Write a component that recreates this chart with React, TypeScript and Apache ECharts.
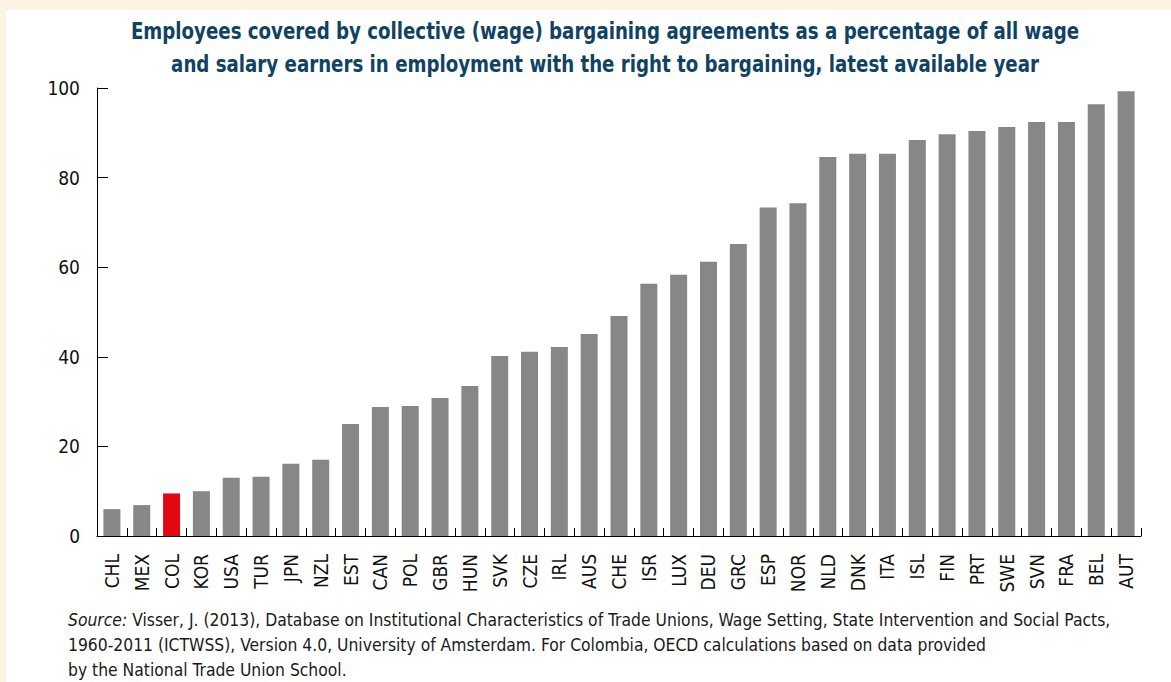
import React, { useEffect, useRef } from "react";
import * as echarts from "echarts";

const categories = ["CHL","MEX","COL","KOR","USA","TUR","JPN","NZL","EST","CAN","POL","GBR","HUN","SVK","CZE","IRL","AUS","CHE","ISR","LUX","DEU","GRC","ESP","NOR","NLD","DNK","ITA","ISL","FIN","PRT","SWE","SVN","FRA","BEL","AUT"];
const values = [6.0,6.9,9.5,10.0,13.0,13.2,16.1,17.0,25.0,28.8,29.0,30.8,33.5,40.2,41.1,42.2,45.1,49.1,56.3,58.3,61.2,65.2,73.3,74.3,84.6,85.3,85.3,88.4,89.7,90.4,91.3,92.4,92.4,96.4,99.3];
const highlighted = ["COL"];
const titleLines = [
  "Employees covered by collective (wage) bargaining agreements as a percentage of all wage",
  "and salary earners in employment with the right to bargaining, latest available year",
];
const sourceLines = [
  "{i|Source:} Visser, J. (2013), Database on Institutional Characteristics of Trade Unions, Wage Setting, State Intervention and Social Pacts,",
  "1960-2011 (ICTWSS), Version 4.0, University of Amsterdam. For Colombia, OECD calculations based on data provided",
  "by the National Trade Union School.",
];

const FONT = "'Liberation Sans Narrow', 'DejaVu Sans Condensed', 'Roboto Condensed', Arial, sans-serif";

export default function App() {
  const ref = useRef<HTMLDivElement>(null);
  useEffect(() => {
    if (!ref.current) return;
    const chart = echarts.init(ref.current, undefined, { renderer: "svg" });
    chart.setOption({
      animation: false,
      textStyle: { fontFamily: FONT },
      grid: { left: 97, right: 30, top: 88, bottom: 146, containLabel: false },
      xAxis: {
        type: "category",
        data: categories,
        axisLine: { show: true, lineStyle: { color: "#000", width: 1 } },
        axisTick: { show: true, inside: true, length: 8, lineStyle: { color: "#000" } },
        axisLabel: { rotate: 90, margin: 18, fontSize: 19, color: "#111", fontFamily: FONT },
      },
      yAxis: {
        type: "value",
        min: 0,
        max: 100,
        interval: 20,
        axisLine: { show: true, lineStyle: { color: "#000", width: 1 } },
        axisTick: { show: true, inside: true, length: 11, lineStyle: { color: "#000" } },
        axisLabel: { margin: 17, fontSize: 19, color: "#111", fontFamily: FONT },
        splitLine: { show: false },
      },
      series: [
        {
          type: "bar",
          barWidth: 17,
          data: values.map((v, i) => ({
            value: v,
            itemStyle: { color: highlighted.includes(categories[i]) ? "#E30613" : "#878787" },
          })),
        },
      ],
      graphic: [
        ...titleLines.map((t, i) => ({
          type: "text",
          x: 605,
          y: 31 + i * 33,
          scaleX: 0.88,
          style: {
            text: t,
            textAlign: "center",
            textVerticalAlign: "middle",
            fontFamily: FONT,
            fontWeight: "bold",
            fontSize: 23,
            fill: "#0f4263",
          },
        })),
        ...sourceLines.map((t, i) => ({
          type: "text",
          x: 68,
          y: 620 + i * 25,
          scaleX: 0.964,
          style: {
            text: t,
            textAlign: "left",
            textVerticalAlign: "middle",
            fontFamily: FONT,
            fontSize: 18,
            fill: "#1a1a1a",
            rich: { i: { fontStyle: "italic", fontFamily: FONT, fontSize: 18, fill: "#1a1a1a" } },
          },
        })),
      ],
    });
    return () => chart.dispose();
  }, []);
  return (
    <div style={{ position: "fixed", left: 0, top: 0, width: 1171, height: 682, background: "#FDF3E3" }}>
      <div style={{ position: "absolute", left: 6, top: 10, right: 0, bottom: 0, background: "#fff" }} />
      <div ref={ref} style={{ position: "absolute", left: 0, top: 0, width: 1171, height: 682 }} />
    </div>
  );
}
